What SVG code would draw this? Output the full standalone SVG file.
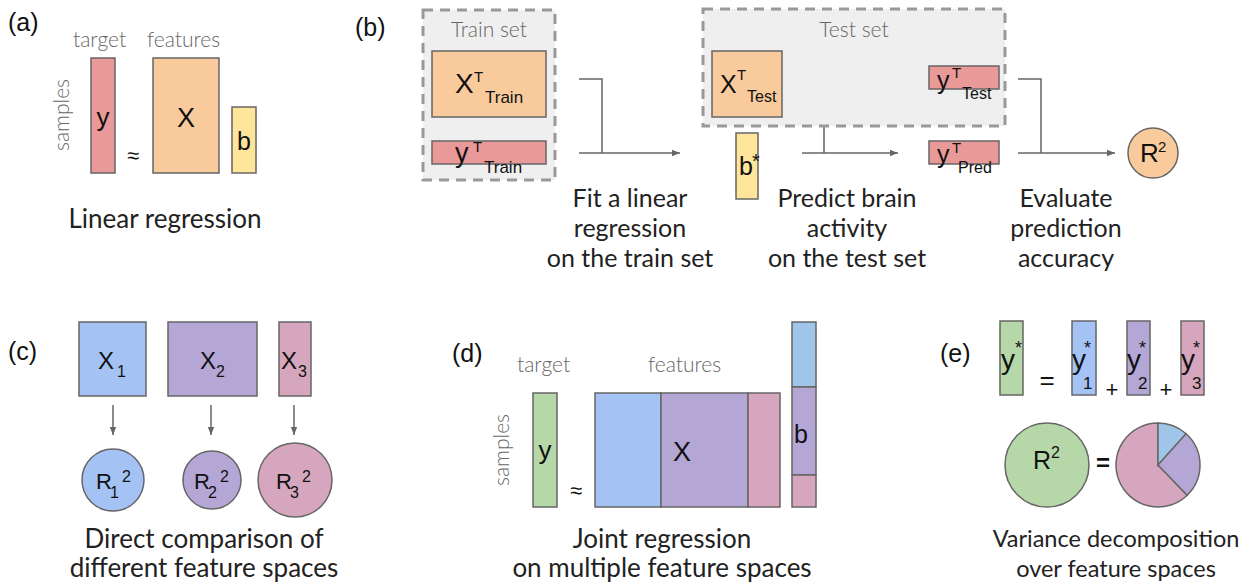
<svg xmlns="http://www.w3.org/2000/svg" width="1251" height="585" viewBox="0 0 1251 585">
<defs>
<style>
.bx{stroke:#666;stroke-width:1.5}
.red{fill:#ea9999}.org{fill:#f9cb9c}.yel{fill:#ffe599}.blu{fill:#a4c2f4}.pur{fill:#b4a7d6}.pnk{fill:#d5a6bd}.grn{fill:#b6d7a8}.lbl{fill:#9fc5e8}
.dash{fill:#efefef;stroke:#999;stroke-width:3;stroke-dasharray:10 7}
.m{font-family:"Liberation Sans",Arial,sans-serif;fill:#111}
.cap{font-family:Lato,"Noto Sans",sans-serif;font-size:26px;fill:#222;text-anchor:middle}
.cb{font-size:25px}
.ce{font-size:23.5px}
.gr{font-family:Lato,"Noto Sans",sans-serif;font-weight:300;font-size:21px;fill:#666}
.pl{font-family:"Liberation Sans",Arial,sans-serif;font-size:25px;fill:#111}
.ln{fill:none;stroke:#666;stroke-width:1.5}
</style>
<marker id="ah" viewBox="0 0 10 10" refX="10" refY="5" markerWidth="8" markerHeight="8" markerUnits="userSpaceOnUse" orient="auto"><path d="M0,1 L10,5 L0,9 z" fill="#666"/></marker>
</defs>

<g id="connectors">
<path class="ln" d="M579,79 H602 V153"/>
<path class="ln" d="M579,153 H680" marker-end="url(#ah)"/>
<path class="ln" d="M802,79 H824 V153"/>
<path class="ln" d="M802,153 H898" marker-end="url(#ah)"/>
<path class="ln" d="M1018,79 H1041 V153"/>
<path class="ln" d="M1018,153 H1115" marker-end="url(#ah)"/>
<path class="ln" d="M113,405 V435" marker-end="url(#ah)"/>
<path class="ln" d="M211,405 V435" marker-end="url(#ah)"/>
<path class="ln" d="M294,405 V435" marker-end="url(#ah)"/>
</g>

<g id="panel-a">
<text class="pl" x="8" y="31">(a)</text>
<text class="gr" x="73" y="47">target</text>
<text class="gr" x="147" y="47">features</text>
<text class="gr" transform="translate(69,115) rotate(-90)" text-anchor="middle">samples</text>
<rect class="bx red" x="91" y="58" width="24" height="115"/>
<text class="m" x="103" y="126" font-size="26" text-anchor="middle">y</text>
<text class="m" x="133" y="163" font-size="22" text-anchor="middle">≈</text>
<rect class="bx org" x="153" y="58" width="66" height="115"/>
<text class="m" x="186" y="127" font-size="27" text-anchor="middle">X</text>
<rect class="bx yel" x="232" y="107" width="24" height="66"/>
<text class="m" x="244" y="150" font-size="25" text-anchor="middle">b</text>
<text class="cap" x="165" y="228">Linear regression</text>
</g>

<g id="panel-b">
<text class="pl" x="355" y="36">(b)</text>
<g id="train-set">
<rect class="dash" x="423" y="10" width="132" height="170"/>
<text class="gr" x="489" y="37" text-anchor="middle">Train set</text>
<rect class="bx org" x="432" y="51" width="114" height="66"/>
<text class="m" x="455" y="93" font-size="28">X</text>
<text class="m" x="474" y="82" font-size="15">T</text>
<text class="m" x="485" y="103" font-size="17">Train</text>
<rect class="bx red" x="432" y="141" width="114" height="23"/>
<text class="m" x="455" y="162" font-size="27">y</text>
<text class="m" x="473" y="152" font-size="15">T</text>
<text class="m" x="484" y="173" font-size="17">Train</text>
</g>
<g id="test-set">
<rect class="dash" x="703" y="9" width="302" height="117"/>
<text class="gr" x="854" y="37" text-anchor="middle">Test set</text>
<rect class="bx org" x="712" y="51" width="70" height="66"/>
<text class="m" x="720" y="93" font-size="25">X</text>
<text class="m" x="737" y="80" font-size="15">T</text>
<text class="m" x="747" y="102" font-size="16">Test</text>
<rect class="bx red" x="929" y="66" width="70" height="23"/>
<text class="m" x="937" y="89" font-size="25">y</text>
<text class="m" x="952" y="78" font-size="15">T</text>
<text class="m" x="962" y="99" font-size="16">Test</text>
</g>
<g id="b-star">
<rect class="bx yel" x="736" y="133" width="22" height="66"/>
<text class="m" x="739" y="175" font-size="25">b</text>
<text class="m" x="752" y="168" font-size="20">*</text>
</g>
<g id="y-pred">
<rect class="bx red" x="929" y="141" width="70" height="23"/>
<text class="m" x="937" y="163" font-size="25">y</text>
<text class="m" x="952" y="153" font-size="15">T</text>
<text class="m" x="958" y="173" font-size="16">Pred</text>
</g>
<g id="r2">
<circle class="bx org" cx="1153" cy="153" r="25"/>
<text class="m" x="1140" y="162" font-size="26">R</text>
<text class="m" x="1158" y="152" font-size="15">2</text>
</g>
<text class="cap cb" x="630" y="207">Fit a linear</text>
<text class="cap cb" x="630" y="237">regression</text>
<text class="cap cb" x="630" y="267">on the train set</text>
<text class="cap cb" x="847" y="207">Predict brain</text>
<text class="cap cb" x="847" y="237">activity</text>
<text class="cap cb" x="847" y="267">on the test set</text>
<text class="cap cb" x="1066" y="207">Evaluate</text>
<text class="cap cb" x="1066" y="237">prediction</text>
<text class="cap cb" x="1066" y="267">accuracy</text>
</g>

<g id="panel-c">
<text class="pl" x="8" y="360">(c)</text>
<g id="x1">
<rect class="bx blu" x="79" y="322" width="67" height="74"/>
<text class="m" x="98" y="369" font-size="24">X</text>
<text class="m" x="117" y="377" font-size="16">1</text>
</g>
<g id="x2">
<rect class="bx pur" x="168" y="322" width="89" height="74"/>
<text class="m" x="200" y="369" font-size="24">X</text>
<text class="m" x="216" y="377" font-size="16">2</text>
</g>
<g id="x3">
<rect class="bx pnk" x="279" y="322" width="32" height="74"/>
<text class="m" x="281" y="369" font-size="24">X</text>
<text class="m" x="298" y="377" font-size="16">3</text>
</g>
<g id="r1">
<circle class="bx blu" cx="113" cy="480" r="31"/>
<text class="m" x="96" y="489" font-size="22">R</text>
<text class="m" x="110" y="498" font-size="16">1</text>
<text class="m" x="122" y="482" font-size="16">2</text>
</g>
<g id="r2c">
<circle class="bx pur" cx="212" cy="480" r="29"/>
<text class="m" x="194" y="489" font-size="22">R</text>
<text class="m" x="208" y="498" font-size="16">2</text>
<text class="m" x="220" y="482" font-size="16">2</text>
</g>
<g id="r3c">
<circle class="bx pnk" cx="295" cy="480" r="37"/>
<text class="m" x="276" y="489" font-size="22">R</text>
<text class="m" x="290" y="498" font-size="16">3</text>
<text class="m" x="302" y="482" font-size="16">2</text>
</g>
<text class="cap" x="204" y="548">Direct comparison of</text>
<text class="cap" x="204" y="577">different feature spaces</text>
</g>

<g id="panel-d">
<text class="pl" x="452" y="362">(d)</text>
<text class="gr" x="517" y="372">target</text>
<text class="gr" x="648" y="372">features</text>
<text class="gr" transform="translate(509,450) rotate(-90)" text-anchor="middle">samples</text>
<rect class="bx grn" x="533" y="393" width="24" height="114"/>
<text class="m" x="545" y="459" font-size="26" text-anchor="middle">y</text>
<text class="m" x="576" y="498" font-size="22" text-anchor="middle">≈</text>
<g id="x-joint">
<rect class="bx blu" x="595" y="393" width="66" height="114"/>
<rect class="bx pur" x="661" y="393" width="87" height="114"/>
<rect class="bx pnk" x="748" y="393" width="32" height="114"/>
<text class="m" x="682" y="461" font-size="27" text-anchor="middle">X</text>
</g>
<g id="b-joint">
<rect class="bx lbl" x="792" y="322" width="24" height="65"/>
<rect class="bx pur" x="792" y="387" width="24" height="88"/>
<rect class="bx pnk" x="792" y="475" width="24" height="32"/>
<text class="m" x="801" y="443" font-size="25" text-anchor="middle">b</text>
</g>
<text class="cap" x="662" y="548">Joint regression</text>
<text class="cap" x="662" y="577">on multiple feature spaces</text>
</g>

<g id="panel-e">
<text class="pl" x="940" y="362">(e)</text>
<g id="ystar">
<rect class="bx grn" x="1000" y="321" width="23" height="74"/>
<text class="m" x="1001" y="369" font-size="28">y</text>
<text class="m" x="1015" y="354" font-size="18">*</text>
</g>
<text class="m" x="1047" y="389" font-size="26" text-anchor="middle">=</text>
<g id="y1star">
<rect class="bx blu" x="1072" y="321" width="24" height="74"/>
<text class="m" x="1072" y="369" font-size="28">y</text>
<text class="m" x="1084" y="354" font-size="18">*</text>
<text class="m" x="1083" y="389" font-size="17">1</text>
</g>
<text class="m" x="1112" y="397" font-size="22" text-anchor="middle">+</text>
<g id="y2star">
<rect class="bx pur" x="1127" y="321" width="23" height="74"/>
<text class="m" x="1127" y="369" font-size="28">y</text>
<text class="m" x="1139" y="354" font-size="18">*</text>
<text class="m" x="1138" y="389" font-size="17">2</text>
</g>
<text class="m" x="1166" y="397" font-size="22" text-anchor="middle">+</text>
<g id="y3star">
<rect class="bx pnk" x="1181" y="321" width="23" height="74"/>
<text class="m" x="1181" y="369" font-size="28">y</text>
<text class="m" x="1193" y="354" font-size="18">*</text>
<text class="m" x="1192" y="389" font-size="17">3</text>
</g>
<g id="r2-total">
<circle class="bx grn" cx="1047" cy="465" r="42"/>
<text class="m" x="1033" y="469" font-size="25">R</text>
<text class="m" x="1051" y="458" font-size="16">2</text>
</g>
<text class="m" x="1103" y="471" font-size="24" font-weight="bold" text-anchor="middle">=</text>
<g id="pie">
<path class="bx pnk" d="M1158,465 L1187.2,495.2 A42,42 0 1,1 1158,423 Z"/>
<path class="bx lbl" d="M1158,465 L1158,423 A42,42 0 0,1 1186.1,433.8 Z"/>
<path class="bx pur" d="M1158,465 L1186.1,433.8 A42,42 0 0,1 1187.2,495.2 Z"/>
</g>
<text class="cap ce" x="1116" y="547">Variance decomposition</text>
<text class="cap ce" x="1116" y="577">over feature spaces</text>
</g>
</svg>
